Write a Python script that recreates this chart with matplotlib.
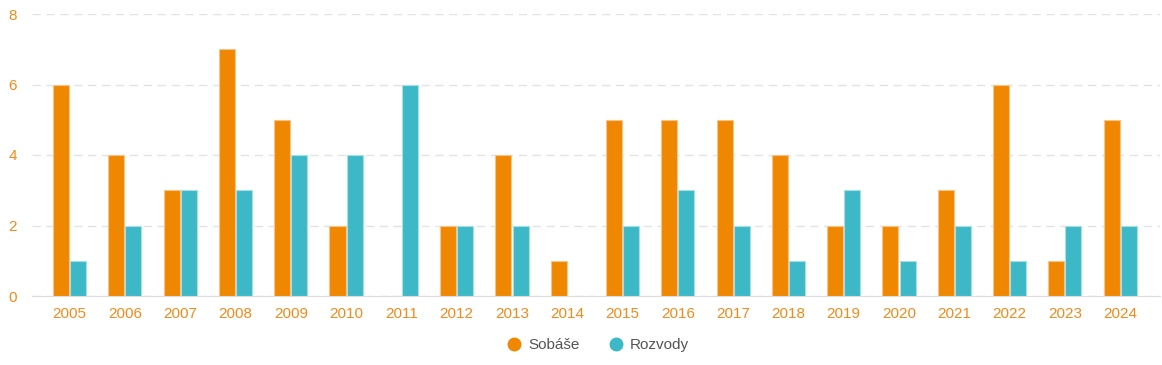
import matplotlib.pyplot as plt
from matplotlib.lines import Line2D
import numpy as np

plt.rcParams['font.family'] = ['Liberation Sans', 'DejaVu Sans']

years = [str(y) for y in range(2005, 2025)]
sobase = [6, 4, 3, 7, 5, 2, 0, 2, 4, 1, 5, 5, 5, 4, 2, 2, 3, 6, 1, 5]
rozvody = [1, 2, 3, 3, 4, 4, 6, 2, 2, 0, 2, 3, 2, 1, 3, 1, 2, 1, 2, 2]

orange = '#f08700'
teal = '#3db8c6'
label_col = '#f08a1c'

W, H = 1162, 365
fig = plt.figure(figsize=(W / 100, H / 100), dpi=100)
ax = fig.add_axes([32 / W, 69 / H, 1128 / W, 282 / H])

x = np.arange(len(years))
bw = 0.29
ax.bar(x - bw / 2 - 0.01, sobase, bw, color=orange, edgecolor='#f7c48a', linewidth=0.8, zorder=3)
ax.bar(x + bw / 2 + 0.01, rozvody, bw, color=teal, edgecolor='#a8dfe6', linewidth=0.8, zorder=3)

ax.set_xlim(-0.68, 19.72)
ax.set_ylim(0, 8)
ax.set_yticks([0, 2, 4, 6, 8])
ax.set_xticks(x)
ax.set_xticklabels(years)
ax.yaxis.grid(True, color='#e3e3e3', linestyle=(0, (6, 4)), linewidth=1)
ax.set_axisbelow(True)
for s in ['top', 'right', 'left']:
    ax.spines[s].set_visible(False)
ax.spines['bottom'].set_color('#dddddd')
ax.tick_params(axis='both', length=0, labelsize=11, colors=label_col)
ax.tick_params(axis='y', pad=11)
ax.tick_params(axis='x', pad=8)

# legend with round markers
handles = [Line2D([], [], marker='o', linestyle='', color=orange, markersize=9),
           Line2D([], [], marker='o', linestyle='', color=teal, markersize=9)]
leg = fig.legend(handles, ['Sobáše', 'Rozvody'], loc='center', bbox_to_anchor=(0.515, 20 / H), ncol=2,
                 frameon=False, handlelength=0.8, handletextpad=0.5, columnspacing=2.0, fontsize=11)
for t in leg.get_texts():
    t.set_color('#555555')

fig.savefig('out.png', dpi=100)
